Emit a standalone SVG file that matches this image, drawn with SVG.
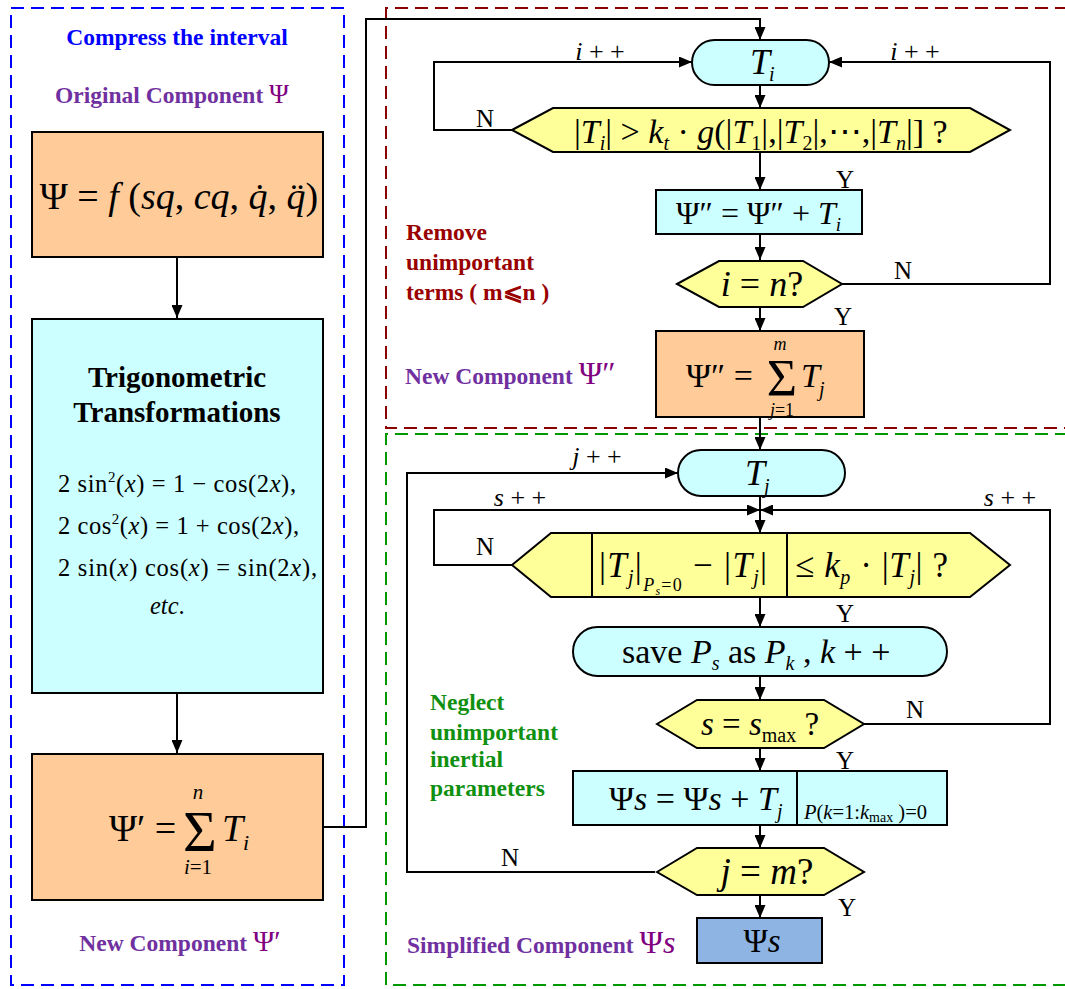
<svg xmlns="http://www.w3.org/2000/svg" width="1065" height="989" viewBox="0 0 1065 989">
<defs>
<marker id="ah" markerUnits="userSpaceOnUse" markerWidth="13" markerHeight="11" refX="13" refY="5.5" orient="auto">
<path d="M0,0 L13,5.5 L0,11 z" fill="#000"/>
</marker>
<style>
text{font-family:"Liberation Serif","DejaVu Serif",serif;fill:#000}
.i{font-style:italic}
.lbl{font-weight:bold;font-size:23.5px}
.pur{fill:#7030A0}
.psi{fill:#800080;font-weight:normal}
.red{fill:#990000}
.grn{fill:#109010}
.yn{font-size:25px}
.nd{stroke:#000;stroke-width:2}
.peach{fill:#FFCC99}
.cyan{fill:#CCFFFF}
.yel{fill:#FFFF99}
.blu{fill:#8DB4E2}
.cn{fill:none;stroke:#000;stroke-width:2}
.cna{fill:none;stroke:#000;stroke-width:2;marker-end:url(#ah)}
</style>
</defs>
<rect width="1065" height="989" fill="#fff"/>

<!-- dashed frames -->
<g id="frames" fill="none" stroke-width="2" stroke-dasharray="13,7">
<rect x="11" y="8" width="333" height="977" stroke="#0000FF"/>
<path d="M1068,8 H386 V428 H1068" stroke="#8B0000"/>
<path d="M1068,434 H386 V985 H1068" stroke="#009900"/>
</g>

<!-- left panel labels -->
<text class="lbl" x="177" y="45" text-anchor="middle" style="fill:#0000FF">Compress the interval</text>
<text class="lbl pur" x="172" y="103" text-anchor="middle">Original Component <tspan class="psi" font-size="27">Ψ</tspan></text>
<text class="lbl pur" x="180" y="951" text-anchor="middle">New Component <tspan class="psi" font-size="29">Ψ′</tspan></text>

<!-- connectors -->
<g id="connectors">
<path class="cna" d="M177,257 V318"/>
<path class="cna" d="M177,693 V753"/>
<path class="cna" d="M323,827 H366 V19 H760 V40"/>
<path class="cna" d="M760,85 V108"/>
<path class="cna" d="M512,130 H434 V62 H692"/>
<path class="cna" d="M760,152 V190"/>
<path class="cna" d="M760,234 V260"/>
<path class="cna" d="M842,284 H1050 V62 H829"/>
<path class="cna" d="M760,307 V331"/>
<path class="cna" d="M760,417 V450"/>
<path class="cna" d="M655,872 H407 V473 H678"/>
<path class="cn" d="M760,496 V510"/>
<path class="cna" d="M760,510 V533"/>
<path class="cna" d="M512,565 H434 V510 H760"/>
<path class="cna" d="M864,724 H1050 V510 H760"/>
<path class="cna" d="M760,597 V627"/>
<path class="cna" d="M760,676 V700"/>
<path class="cna" d="M760,748 V771"/>
<path class="cna" d="M760,825 V848"/>
<path class="cna" d="M760,895 V918"/>
</g>

<!-- connector labels -->
<g id="connector-labels">
<text x="600" y="60" font-size="26" text-anchor="middle"><tspan class="i">i</tspan> + +</text>
<text x="915" y="60" font-size="26" text-anchor="middle"><tspan class="i">i</tspan> + +</text>
<text class="yn" x="485" y="127" text-anchor="middle">N</text>
<text class="yn" x="845" y="188" text-anchor="middle">Y</text>
<text class="yn" x="903" y="279" text-anchor="middle">N</text>
<text class="yn" x="843" y="325" text-anchor="middle">Y</text>
<text x="597" y="465" font-size="26" text-anchor="middle"><tspan class="i">j</tspan> + +</text>
<text x="520" y="506" font-size="26" text-anchor="middle"><tspan class="i">s</tspan> + +</text>
<text x="1010" y="506" font-size="26" text-anchor="middle"><tspan class="i">s</tspan> + +</text>
<text class="yn" x="485" y="555" text-anchor="middle">N</text>
<text class="yn" x="845" y="622" text-anchor="middle">Y</text>
<text class="yn" x="915" y="718" text-anchor="middle">N</text>
<text class="yn" x="845" y="769" text-anchor="middle">Y</text>
<text class="yn" x="510" y="866" text-anchor="middle">N</text>
<text class="yn" x="847" y="916" text-anchor="middle">Y</text>
</g>

<!-- left panel nodes -->
<g id="node-psi">
<rect class="nd peach" x="32" y="132" width="291" height="125"/>
<text x="179" y="209" font-size="38" text-anchor="middle">Ψ = <tspan class="i">f</tspan> (<tspan class="i">sq</tspan>, <tspan class="i">cq</tspan>, <tspan class="i">q̇</tspan>, <tspan class="i">q̈</tspan>)</text>
</g>
<g id="node-trig">
<rect class="nd cyan" x="32" y="319" width="291" height="374"/>
<text x="177" y="387" font-size="29" font-weight="bold" text-anchor="middle">Trigonometric</text>
<text x="177" y="422" font-size="29" font-weight="bold" text-anchor="middle">Transformations</text>
<text x="58" y="492" font-size="24.5" textLength="238" lengthAdjust="spacing">2 sin<tspan font-size="15" dy="-10">2</tspan><tspan dy="10">(</tspan><tspan class="i">x</tspan>) = 1 − cos(2<tspan class="i">x</tspan>),</text>
<text x="58" y="534" font-size="24.5" textLength="241" lengthAdjust="spacing">2 cos<tspan font-size="15" dy="-10">2</tspan><tspan dy="10">(</tspan><tspan class="i">x</tspan>) = 1 + cos(2<tspan class="i">x</tspan>),</text>
<text x="58" y="576" font-size="24.5" textLength="259" lengthAdjust="spacing">2 sin(<tspan class="i">x</tspan>) cos(<tspan class="i">x</tspan>) = sin(2<tspan class="i">x</tspan>),</text>
<text x="150" y="614" font-size="24.5"><tspan class="i">etc</tspan>.</text>
</g>
<g id="node-psi1">
<rect class="nd peach" x="32" y="754" width="291" height="146"/>
<text x="109" y="841" font-size="38">Ψ′ =</text>
<text x="200" y="851" font-size="58" text-anchor="middle">Σ</text>
<text x="198" y="799" font-size="21" class="i" text-anchor="middle">n</text>
<text x="198" y="874" font-size="21" text-anchor="middle"><tspan class="i">i</tspan>=1</text>
<text x="222" y="841" font-size="38" class="i">T</text>
<text x="243" y="850" font-size="22" class="i">i</text>
</g>

<!-- top-right flow -->
<text class="lbl red" x="406" y="240">Remove</text>
<text class="lbl red" x="406" y="270">unimportant</text>
<text class="lbl red" x="406" y="300">terms ( m⩽n )</text>
<text class="lbl pur" x="405" y="384">New Component <tspan class="psi" font-size="32">Ψ″</tspan></text>

<g id="node-Ti">
<rect class="nd cyan" x="692" y="40" width="137" height="45" rx="22.5"/>
<text x="750" y="74" font-size="36" class="i">T</text>
<text x="769" y="81" font-size="20" class="i">i</text>
</g>
<g id="node-cond1">
<path class="nd yel" d="M512,130 L553,108 H970 L1010,130 L970,152 H553 Z"/>
<text x="574" y="143" font-size="34">|<tspan class="i">T</tspan><tspan class="i" font-size="20" dy="7">i</tspan><tspan dy="-7">| &gt; </tspan><tspan class="i">k</tspan><tspan class="i" font-size="20" dy="7">t</tspan><tspan dy="-7"> · </tspan><tspan class="i">g</tspan>(|<tspan class="i">T</tspan><tspan font-size="20" dy="7">1</tspan><tspan dy="-7">|,|</tspan><tspan class="i">T</tspan><tspan font-size="20" dy="7">2</tspan><tspan dy="-7">|,⋯,|</tspan><tspan class="i">T</tspan><tspan class="i" font-size="20" dy="7">n</tspan><tspan dy="-7">|] ?</tspan></text>
</g>
<g id="node-acc1">
<rect class="nd cyan" x="656" y="190" width="206" height="44"/>
<text x="676" y="224" font-size="32">Ψ″ = Ψ″ + <tspan class="i">T</tspan><tspan class="i" font-size="19" dy="7">i</tspan></text>
</g>
<g id="node-in">
<path class="nd yel" d="M677,284 L719,261 H803 L842,284 L803,307 H719 Z"/>
<text x="762" y="296" font-size="36" text-anchor="middle"><tspan class="i">i</tspan> = <tspan class="i">n</tspan>?</text>
</g>
<g id="node-psi2">
<rect class="nd peach" x="656" y="331" width="208" height="86"/>
<text x="686" y="387" font-size="34">Ψ″ =</text>
<text x="782" y="396" font-size="52" text-anchor="middle">Σ</text>
<text x="780" y="350" font-size="18" class="i" text-anchor="middle">m</text>
<text x="782" y="416" font-size="18" text-anchor="middle"><tspan class="i">j</tspan>=1</text>
<text x="801" y="387" font-size="34" class="i">T</text>
<text x="819" y="396" font-size="20" class="i">j</text>
</g>

<!-- bottom-right flow -->
<text class="lbl grn" x="430" y="710">Neglect</text>
<text class="lbl grn" x="430" y="740">unimportant</text>
<text class="lbl grn" x="430" y="767">inertial</text>
<text class="lbl grn" x="430" y="796">parameters</text>
<text class="lbl pur" x="407" y="953">Simplified Component <tspan class="psi" font-size="32">Ψ<tspan class="i">s</tspan></tspan></text>

<g id="node-Tj">
<rect class="nd cyan" x="678" y="450" width="167" height="46" rx="23"/>
<text x="745" y="485" font-size="36" class="i">T</text>
<text x="764" y="493" font-size="20" class="i">j</text>
</g>
<g id="node-cond2">
<path class="nd yel" d="M512,565 L551,533 H970 L1010,565 L970,597 H551 Z"/>
<path class="nd" d="M592,533 V597 M787,533 V597"/>
<text x="599" y="577" font-size="35" textLength="168" lengthAdjust="spacing">|<tspan class="i">T</tspan><tspan class="i" font-size="20" dy="7">j</tspan><tspan dy="-7">|</tspan><tspan class="i" font-size="18" dy="14">P</tspan><tspan class="i" font-size="12" dy="4">s</tspan><tspan font-size="18" dy="-4">=0</tspan><tspan dy="-14"> − |</tspan><tspan class="i">T</tspan><tspan class="i" font-size="20" dy="7">j</tspan><tspan dy="-7">|</tspan></text>
<text x="795" y="577" font-size="35" textLength="153" lengthAdjust="spacing">≤ <tspan class="i">k</tspan><tspan class="i" font-size="20" dy="7">p</tspan><tspan dy="-7"> · |</tspan><tspan class="i">T</tspan><tspan class="i" font-size="20" dy="7">j</tspan><tspan dy="-7">|  ?</tspan></text>
</g>
<g id="node-save">
<rect class="nd cyan" x="573" y="627" width="374" height="49" rx="24.5"/>
<text x="622" y="663" font-size="34">save <tspan class="i">P</tspan><tspan class="i" font-size="20" dy="7">s</tspan><tspan dy="-7">  as </tspan><tspan class="i">P</tspan><tspan class="i" font-size="20" dy="7">k</tspan><tspan dy="-7">  , </tspan><tspan class="i">k</tspan> + +</text>
</g>
<g id="node-smax">
<path class="nd yel" d="M657,724 L697,700 H824 L864,724 L824,748 H697 Z"/>
<text x="701" y="735" font-size="33"><tspan class="i">s</tspan> = <tspan class="i">s</tspan><tspan font-size="20" dy="7">max</tspan><tspan dy="-7"> ?</tspan></text>
</g>
<g id="node-psis-acc">
<rect class="nd cyan" x="573" y="771" width="374" height="54"/>
<path class="nd" d="M797,772 V824"/>
<text x="609" y="810" font-size="34">Ψ<tspan class="i">s</tspan> = Ψ<tspan class="i">s</tspan> + <tspan class="i">T</tspan><tspan class="i" font-size="20" dy="8">j</tspan></text>
<text x="804" y="819" font-size="20.5"><tspan class="i">P</tspan>(<tspan class="i">k</tspan>=1:<tspan class="i">k</tspan><tspan font-size="14" dy="3">max</tspan><tspan dy="-3"> )=0</tspan></text>
</g>
<g id="node-jm">
<path class="nd yel" d="M657,872 L697,848 H824 L864,872 L824,895 H697 Z"/>
<text x="767" y="884" font-size="37" text-anchor="middle"><tspan class="i">j</tspan> = <tspan class="i">m</tspan>?</text>
</g>
<g id="node-psis">
<rect class="nd blu" x="697" y="918" width="125" height="45"/>
<text x="762" y="952" font-size="33" text-anchor="middle">Ψ<tspan class="i">s</tspan></text>
</g>
</svg>
